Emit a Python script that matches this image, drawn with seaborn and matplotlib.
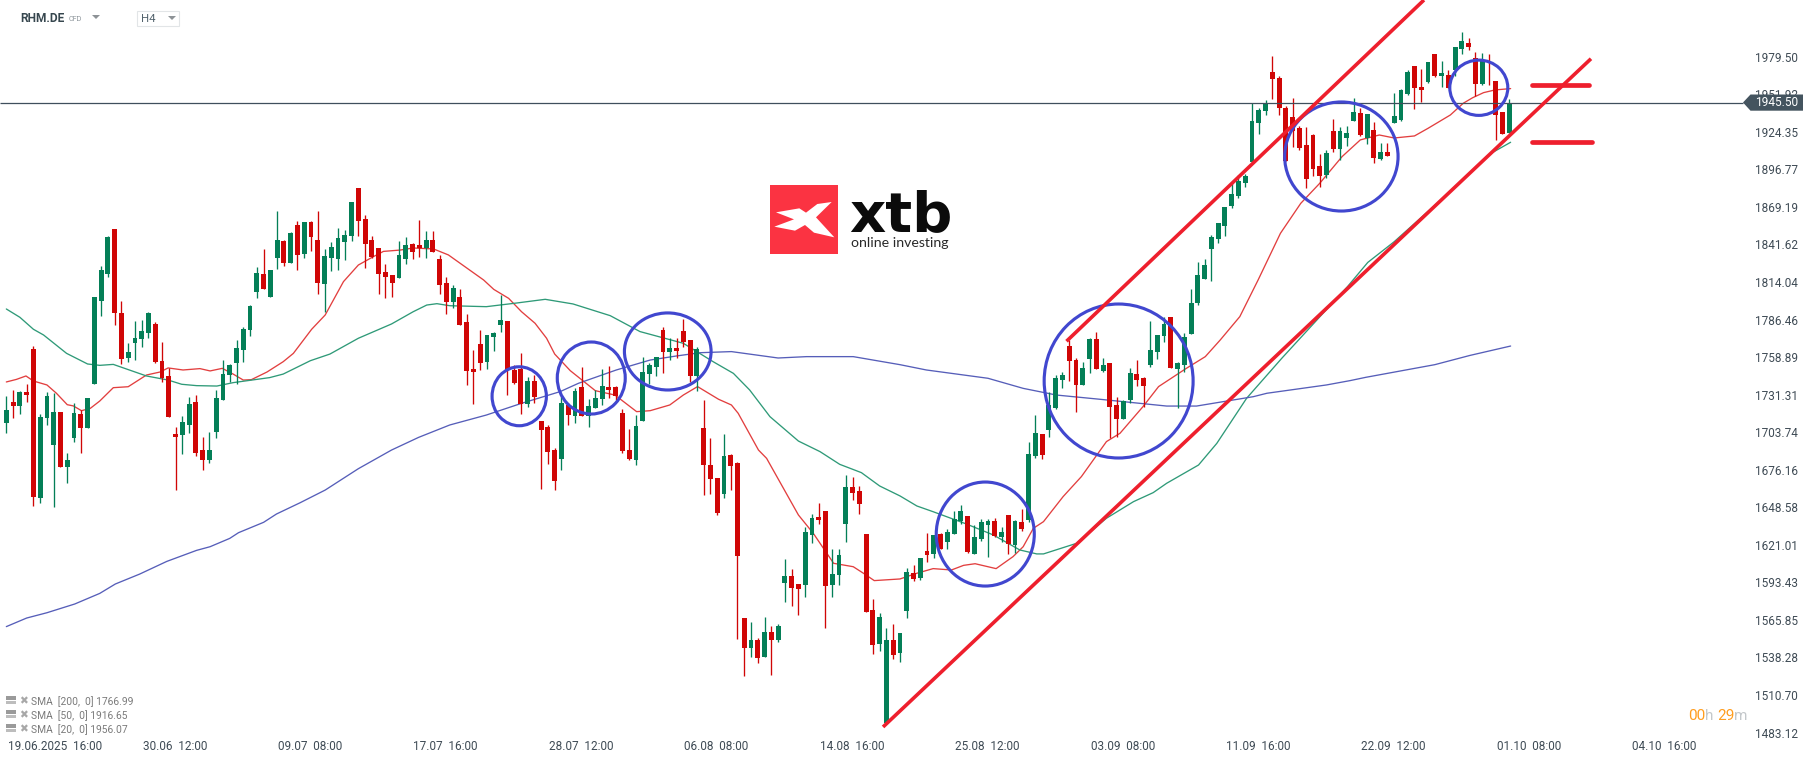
import numpy as np
import pandas as pd
import seaborn as sns
import matplotlib
matplotlib.use("Agg")
import matplotlib.pyplot as plt
from matplotlib.patches import Ellipse, Polygon, Rectangle, FancyBboxPatch

sns.set_style("white")
plt.rcParams['font.family'] = ['Roboto', 'DejaVu Sans']

# candles, H4, in price units
opens = [1710.5, 1725.9, 1723.0, 1733.2, 1764.8, 1655.4, 1714.1, 1694.3, 1718.5, 1678.1,
         1699.4, 1717.1, 1706.8, 1739.1, 1800.1, 1819.9, 1853.0, 1791.3, 1758.2, 1769.2,
         1772.2, 1776.6, 1783.2, 1756.0, 1745.0, 1702.4, 1701.6, 1709.0, 1725.9, 1690.6,
         1683.3, 1703.9, 1727.4, 1745.7, 1754.5, 1764.1, 1778.8, 1806.7, 1819.9, 1803.0,
         1831.6, 1844.1, 1828.0, 1855.9, 1834.6, 1858.1, 1844.9, 1812.6, 1831.6, 1830.9,
         1843.4, 1847.8, 1883.1, 1860.3, 1844.9, 1839.0, 1821.4, 1819.2, 1817.0, 1830.9,
         1841.9, 1841.2, 1839.0, 1844.9, 1830.9, 1813.3, 1799.3, 1803.0, 1784.6, 1750.1,
         1768.5, 1755.3, 1773.6, 1782.4, 1785.4, 1749.4, 1750.1, 1724.4, 1741.3, 1711.9,
         1707.5, 1690.6, 1684.0, 1723.7, 1715.6, 1736.9, 1715.6, 1721.5, 1728.1, 1736.9,
         1736.9, 1717.8, 1690.6, 1683.3, 1711.9, 1746.5, 1751.6, 1778.8, 1762.6, 1765.6,
         1778.0, 1771.4, 1745.0, 1706.8, 1679.6, 1670.1, 1658.3, 1687.0, 1681.1, 1567.2,
         1545.2, 1551.1, 1538.6, 1557.0, 1551.1, 1593.0, 1598.1, 1592.2, 1591.5, 1628.2,
         1641.4, 1645.8, 1591.5, 1598.8, 1636.3, 1663.5, 1660.5, 1628.9, 1573.1, 1548.2,
         1490.1, 1551.1, 1541.5, 1572.4, 1600.3, 1596.6, 1616.5, 1614.3, 1628.9, 1623.1,
         1628.9, 1638.5, 1642.2, 1614.3, 1625.3, 1635.5, 1638.5, 1626.7, 1642.9, 1620.9,
         1637.8, 1639.2, 1686.2, 1702.4, 1705.3, 1721.5, 1742.0, 1767.0, 1756.7, 1738.4,
         1757.5, 1772.2, 1748.7, 1754.5, 1723.7, 1713.4, 1727.4, 1746.5, 1743.5, 1753.1,
         1762.6, 1774.4, 1788.3, 1750.1, 1753.1, 1775.8, 1798.6, 1816.2, 1838.3, 1845.6,
         1855.2, 1869.9, 1877.2, 1886.7, 1902.2, 1930.8, 1939.6, 1968.3, 1963.9, 1941.8,
         1935.2, 1927.1, 1914.7, 1922.0, 1899.2, 1892.6, 1924.9, 1911.7, 1919.8, 1932.3,
         1938.2, 1919.8, 1925.7, 1904.4, 1909.5, 1930.8, 1933.0, 1952.1, 1972.7, 1957.3,
         1960.9, 1981.5, 1965.3, 1966.1, 1969.7, 1985.2, 1989.6, 1978.6, 1959.5, 1976.3,
         1961.7, 1938.9, 1923.5]
highs = [1730.3, 1734.7, 1734.0, 1739.1, 1767.0, 1717.1, 1733.2, 1732.5, 1718.5, 1688.4,
         1725.1, 1720.0, 1728.8, 1803.0, 1825.8, 1847.8, 1853.0, 1800.1, 1769.2, 1785.4,
         1786.1, 1792.0, 1784.6, 1770.0, 1750.9, 1707.5, 1715.6, 1729.6, 1731.0, 1700.2,
         1703.9, 1734.7, 1756.7, 1753.8, 1771.4, 1781.0, 1797.1, 1825.0, 1838.3, 1822.8,
         1866.2, 1844.9, 1850.7, 1858.8, 1858.1, 1858.8, 1866.2, 1838.3, 1843.4, 1853.7,
         1852.2, 1872.8, 1883.1, 1863.2, 1847.8, 1839.0, 1827.2, 1819.2, 1844.1, 1847.1,
         1842.7, 1859.6, 1851.5, 1851.5, 1833.9, 1817.7, 1811.8, 1808.9, 1790.5, 1764.1,
         1778.8, 1775.1, 1777.3, 1804.5, 1785.4, 1753.1, 1761.9, 1744.3, 1745.7, 1711.9,
         1709.0, 1692.1, 1731.0, 1724.9, 1736.2, 1751.6, 1728.1, 1734.7, 1750.1, 1752.3,
         1737.6, 1720.8, 1706.1, 1716.3, 1758.9, 1754.5, 1758.9, 1781.0, 1772.9, 1772.9,
         1786.9, 1771.4, 1766.3, 1727.4, 1699.4, 1670.1, 1702.4, 1687.7, 1681.8, 1567.2,
         1564.3, 1552.5, 1568.0, 1561.4, 1562.8, 1610.6, 1603.2, 1592.2, 1634.1, 1643.6,
         1651.7, 1645.8, 1617.9, 1617.9, 1672.3, 1670.8, 1664.2, 1628.9, 1581.2, 1570.9,
         1559.9, 1562.8, 1556.2, 1603.7, 1606.2, 1611.3, 1629.7, 1628.2, 1629.7, 1632.6,
         1645.8, 1650.2, 1642.2, 1635.5, 1640.0, 1640.0, 1640.7, 1634.1, 1642.9, 1639.2,
         1647.3, 1696.5, 1716.3, 1702.4, 1733.2, 1745.7, 1747.9, 1771.4, 1758.2, 1755.3,
         1772.9, 1777.3, 1758.2, 1754.5, 1729.6, 1727.4, 1750.9, 1756.7, 1744.3, 1785.4,
         1775.1, 1788.3, 1788.3, 1755.3, 1776.6, 1808.9, 1828.7, 1830.9, 1848.5, 1857.4,
         1869.1, 1886.7, 1892.6, 1893.4, 1945.7, 1941.8, 1947.7, 1980.0, 1965.3, 1943.3,
         1949.2, 1928.6, 1927.9, 1922.7, 1908.0, 1911.0, 1933.8, 1927.9, 1928.6, 1949.2,
         1941.8, 1937.4, 1931.5, 1916.1, 1916.1, 1952.8, 1955.8, 1969.7, 1972.7, 1970.5,
         1975.6, 1981.5, 1976.3, 1969.7, 1986.6, 1997.6, 1993.2, 1983.0, 1982.2, 1981.5,
         1961.7, 1938.9, 1948.4]
lows = [1703.1, 1714.1, 1717.1, 1725.9, 1649.5, 1651.7, 1709.0, 1648.8, 1678.1, 1666.4,
        1696.5, 1688.4, 1706.8, 1739.1, 1789.1, 1817.7, 1782.4, 1753.8, 1755.3, 1756.7,
        1766.3, 1772.9, 1754.5, 1740.6, 1714.9, 1661.2, 1687.7, 1703.1, 1686.2, 1675.9,
        1681.1, 1699.4, 1727.4, 1740.6, 1739.1, 1755.3, 1774.4, 1802.3, 1808.9, 1803.0,
        1823.6, 1825.8, 1828.0, 1822.8, 1831.6, 1836.8, 1805.2, 1792.0, 1822.1, 1822.8,
        1830.2, 1844.1, 1847.8, 1824.3, 1831.6, 1805.2, 1802.3, 1803.0, 1817.0, 1827.2,
        1830.9, 1832.4, 1831.6, 1836.1, 1805.2, 1790.5, 1794.9, 1782.4, 1738.4, 1724.4,
        1749.4, 1750.1, 1763.4, 1777.3, 1731.0, 1739.1, 1717.1, 1722.2, 1725.2, 1662.0,
        1680.4, 1661.3, 1676.0, 1709.0, 1710.5, 1715.6, 1707.5, 1721.5, 1723.7, 1728.8,
        1727.4, 1688.4, 1683.3, 1679.6, 1711.9, 1739.1, 1745.0, 1747.2, 1756.7, 1758.2,
        1766.3, 1740.6, 1734.0, 1657.6, 1658.3, 1642.9, 1655.4, 1661.3, 1551.8, 1524.6,
        1538.6, 1534.2, 1538.6, 1525.4, 1549.6, 1579.0, 1576.1, 1569.5, 1582.7, 1622.3,
        1636.3, 1559.9, 1582.7, 1591.5, 1623.1, 1653.9, 1643.6, 1571.6, 1540.8, 1543.0,
        1490.1, 1537.1, 1534.9, 1567.2, 1594.4, 1595.2, 1608.4, 1611.3, 1617.9, 1617.9,
        1628.9, 1636.3, 1615.0, 1614.3, 1623.8, 1612.0, 1626.7, 1623.1, 1614.3, 1615.0,
        1631.1, 1637.8, 1684.8, 1684.0, 1700.2, 1720.8, 1736.2, 1741.3, 1718.5, 1738.4,
        1747.2, 1750.1, 1747.9, 1699.4, 1700.2, 1713.4, 1725.2, 1737.6, 1722.2, 1751.6,
        1757.5, 1770.0, 1750.9, 1721.5, 1747.9, 1775.8, 1797.1, 1816.2, 1814.8, 1842.7,
        1847.8, 1868.4, 1875.7, 1883.8, 1902.2, 1922.7, 1936.7, 1948.4, 1936.7, 1902.9,
        1913.2, 1911.0, 1883.1, 1891.9, 1883.8, 1890.4, 1909.5, 1903.6, 1913.9, 1932.3,
        1921.3, 1915.4, 1901.4, 1903.6, 1906.6, 1930.8, 1932.3, 1951.4, 1941.1, 1946.2,
        1960.2, 1964.6, 1957.3, 1956.5, 1965.3, 1981.5, 1984.4, 1950.6, 1958.7, 1958.7,
        1918.3, 1922.7, 1923.5]
closes = [1720.0, 1723.0, 1733.2, 1731.0, 1656.1, 1714.9, 1730.3, 1718.5, 1678.1, 1683.3,
          1717.8, 1706.8, 1728.8, 1803.0, 1822.8, 1847.1, 1791.3, 1757.5, 1762.6, 1772.9,
          1778.0, 1791.3, 1755.3, 1743.5, 1714.9, 1700.2, 1711.2, 1724.4, 1688.4, 1683.3,
          1690.6, 1728.8, 1746.4, 1753.1, 1765.5, 1779.5, 1796.4, 1820.6, 1808.9, 1822.8,
          1844.9, 1828.0, 1850.0, 1833.9, 1858.1, 1847.1, 1813.3, 1833.1, 1839.7, 1846.3,
          1848.5, 1872.8, 1858.8, 1841.9, 1832.4, 1819.9, 1817.7, 1813.3, 1833.9, 1841.2,
          1836.1, 1839.0, 1844.9, 1836.1, 1811.8, 1799.3, 1809.6, 1782.4, 1748.7, 1747.9,
          1754.5, 1775.1, 1776.6, 1786.1, 1749.4, 1739.9, 1724.4, 1741.3, 1729.6, 1705.3,
          1689.2, 1667.9, 1725.2, 1716.3, 1734.0, 1715.6, 1723.0, 1728.8, 1737.6, 1734.7,
          1730.3, 1689.9, 1684.0, 1708.3, 1747.9, 1753.1, 1758.9, 1762.6, 1765.6, 1763.4,
          1770.0, 1745.0, 1764.8, 1679.6, 1669.3, 1644.4, 1686.2, 1678.9, 1612.8, 1545.2,
          1551.1, 1537.9, 1557.0, 1551.1, 1561.4, 1598.1, 1589.3, 1588.5, 1630.4, 1640.7,
          1639.2, 1590.7, 1599.6, 1613.5, 1663.5, 1659.0, 1651.0, 1571.6, 1547.4, 1568.0,
          1551.1, 1540.1, 1556.2, 1601.0, 1595.9, 1611.3, 1613.5, 1628.2, 1617.9, 1630.4,
          1640.0, 1645.8, 1615.7, 1626.7, 1637.8, 1638.5, 1627.5, 1630.4, 1621.6, 1638.5,
          1632.6, 1687.7, 1703.1, 1687.0, 1723.7, 1743.5, 1745.7, 1756.0, 1738.4, 1750.9,
          1772.2, 1750.1, 1753.1, 1722.2, 1713.4, 1726.6, 1747.2, 1742.0, 1737.6, 1764.1,
          1775.1, 1783.2, 1750.9, 1754.5, 1773.6, 1798.6, 1819.2, 1826.5, 1847.1, 1857.4,
          1869.1, 1878.7, 1888.2, 1891.9, 1932.3, 1940.4, 1945.7, 1963.1, 1941.8, 1902.9,
          1924.9, 1912.4, 1889.7, 1897.0, 1891.9, 1908.8, 1911.7, 1924.9, 1923.5, 1938.9,
          1922.0, 1937.4, 1905.1, 1909.5, 1906.6, 1936.0, 1955.0, 1968.3, 1956.5, 1955.0,
          1975.6, 1965.3, 1967.5, 1956.5, 1986.6, 1991.0, 1986.6, 1959.5, 1976.3, 1975.6,
          1936.7, 1922.7, 1945.5]

# moving averages, sampled along the curves
sma20_x = [0, 1.5, 2.9, 4, 6, 7.4, 9, 9.9, 11.1, 12.4, 13.8, 15.8, 18, 20.7, 22.7, 23.9, 26.1, 28.6, 30.1,
           31.9, 33.5, 35, 36.2, 38.5, 40.9, 42.4, 45.1, 47.1, 49.8, 52, 54.2, 55.7, 58.2, 60.1, 63.1, 65.3,
           70.5, 72, 74.2, 76.1, 78.1, 79.8, 81, 83.3, 87, 89.9, 93.1, 95.1, 98, 100, 102.1, 105.2, 107.1,
           108.1, 111.1, 112.3, 117, 119.2, 122.2, 125.1, 126.6, 128.2, 132, 134.5, 136.9, 139.6, 141.4,
           143.1, 146.2, 148.7, 150.2, 151.7, 153.2, 156.1, 158.8, 162.5, 164.5, 167.9, 170.2, 174.3, 177.1,
           179.3, 182.2, 184.9, 188.2, 191.2, 194, 197.3, 200, 202.8, 205, 208, 210, 213.3, 215.2, 216.6,
           218.2, 219.9, 222.2]
sma20_y = [1740.6, 1742.5, 1745.0, 1741.3, 1738.4, 1732.3, 1723.9, 1723.0, 1719.5, 1721.2, 1726.6, 1736.4,
           1737.1, 1745.7, 1747.9, 1750.9, 1749.4, 1750.4, 1748.7, 1750.6, 1746.4, 1742.0, 1742.3, 1747.9,
           1755.5, 1761.6, 1779.3, 1789.8, 1814.3, 1826.5, 1832.6, 1836.5, 1837.5, 1839.0, 1838.3, 1833.9,
           1815.5, 1808.6, 1802.0, 1792.2, 1783.7, 1772.7, 1761.1, 1748.9, 1734.2, 1731.0, 1718.8, 1719.5,
           1723.7, 1731.0, 1737.2, 1727.9, 1723.7, 1717.6, 1690.6, 1684.5, 1642.9, 1629.4, 1607.4, 1604.9,
           1600.1, 1594.7, 1595.9, 1600.1, 1603.5, 1602.5, 1605.9, 1607.1, 1603.5, 1612.3, 1619.6, 1633.1,
           1638.0, 1656.4, 1671.1, 1696.8, 1702.9, 1722.5, 1737.2, 1750.6, 1759.2, 1771.4, 1788.6, 1815.5,
           1849.8, 1871.8, 1886.5, 1906.1, 1918.4, 1922.0, 1919.8, 1921.3, 1926.9, 1936.7, 1945.3, 1949.4,
           1953.1, 1955.1, 1956.07]
sma50_x = [0, 2, 4, 5.5, 8.9, 12, 13.8, 15.8, 20.7, 23.9, 25.9, 28.1, 31.1, 33.5, 38.9, 40.9, 44.9, 47.8, 52,
           56.9, 60.1, 62.1, 63.6, 65.5, 70.9, 75.4, 79.6, 83.7, 89.2, 93.6, 100, 104.4, 107.4, 109.8, 112.8,
           117, 120.2, 123.1, 126.3, 129, 132, 134.5, 136.9, 141.8, 145.8, 149.7, 152.2, 153.2, 158.1, 162.5,
           166.5, 169.4, 171.4, 176.1, 178.8, 183.2, 188.4, 198.1, 201.1, 205, 213.8, 219.3, 222.2]
sma50_y = [1794.2, 1788.1, 1779.3, 1775.1, 1761.6, 1753.8, 1752.8, 1753.5, 1745.0, 1742.0, 1738.9, 1737.9,
           1737.6, 1740.1, 1743.8, 1746.4, 1756.2, 1761.1, 1772.7, 1783.2, 1792.2, 1797.1, 1798.1, 1796.6,
           1795.9, 1798.6, 1801.3, 1797.9, 1789.3, 1777.6, 1769.0, 1755.5, 1746.9, 1734.7, 1715.1, 1697.2,
           1689.4, 1680.1, 1674.0, 1664.2, 1656.9, 1649.5, 1645.3, 1636.3, 1628.2, 1617.2, 1614.3, 1614.3,
           1622.1, 1640.5, 1652.7, 1659.3, 1666.2, 1679.6, 1695.5, 1728.6, 1758.0, 1810.6, 1828.4, 1843.6,
           1882.8, 1908.5, 1916.65]
sma200_x = [0, 3, 6, 10.1, 13.8, 16.1, 19.7, 23.7, 28.1, 30.1, 33, 34.3, 38, 39.9, 43.4, 47.1, 52, 56.9, 60.9,
            65.5, 70.9, 76.1, 81.8, 84.5, 90.1, 95.1, 99, 102.5, 107.1, 114, 118.2, 125.1, 132, 135.9, 145,
            150.2, 155.1, 161.5, 171.4, 175.8, 184.2, 186.2, 195, 198.5, 200.8, 211, 216.2, 222.2]
sma200_y = [1560.9, 1567.2, 1571.1, 1577.5, 1585.3, 1592.2, 1599.5, 1608.8, 1616.9, 1619.6, 1625.7, 1629.9,
            1637.5, 1643.6, 1651.9, 1661.2, 1676.9, 1690.6, 1699.9, 1709.0, 1716.3, 1724.9, 1733.5, 1739.6,
            1749.4, 1756.7, 1759.7, 1762.1, 1762.9, 1758.2, 1759.2, 1759.2, 1753.3, 1749.4, 1743.3, 1735.9,
            1731.0, 1727.9, 1722.9, 1722.9, 1729.8, 1732.3, 1738.4, 1741.6, 1744.0, 1753.3, 1760.1, 1766.99]

last_price = 1945.50
price_ticks = [1979.50, 1951.92, 1924.35, 1896.77, 1869.19, 1841.62, 1814.04, 1786.46, 1758.89, 1731.31,
               1703.74, 1676.16, 1648.58, 1621.01, 1593.43, 1565.85, 1538.28, 1510.70, 1483.12]
time_ticks = [7.2, 24.9, 44.9, 64.9, 84.9, 104.9, 124.9, 144.9, 164.9, 184.9, 204.9, 224.9, 244.9]
time_labels = ['19.06.2025  16:00', '30.06  12:00', '09.07  08:00', '17.07  16:00', '28.07  12:00',
               '06.08  08:00', '14.08  16:00', '25.08  12:00', '03.09  08:00', '11.09  16:00',
               '22.09  12:00', '01.10  08:00', '04.10  16:00']
sma_legend = ['SMA  [200,  0] 1766.99', 'SMA  [50,  0] 1916.65', 'SMA  [20,  0] 1956.07']

# hand drawn analysis on top of the chart: (idx, price, width, height)
circles = [(75.76, 1730.1, 8.02, 43.3), (86.4, 1743.5, 10.04, 52.9), (97.7, 1763.0, 12.8, 56.6),
           (144.6, 1628.9, 14.48, 76.4), (164.3, 1741.3, 22.0, 113.1), (197.2, 1906.2, 16.75, 80.1),
           (217.5, 1956.7, 8.57, 40.6)]
channel_low = ([129.5, 234.07], [1487.2, 1978.0])
channel_high = ([156.6, 209.4], [1770.5, 2021.15])
level_high = ([225.4, 233.8], [1958.5, 1958.5])
level_low = ([225.3, 234.2], [1916.6, 1916.6])

GREEN = '#047f57'
RED = '#d00606'
TEXT = '#3f4b55'
W, H = 1815, 761


def fx(x):
    return x / W


def fy(y):
    return 1 - y / H


def draw_candles(ax):
    idx = np.arange(len(opens))
    o, h, l, c = map(np.array, (opens, highs, lows, closes))
    up = c >= o
    colors = np.where(up, GREEN, RED)
    ax.vlines(idx, l, h, colors=colors, linewidth=0.95, zorder=3)
    ax.bar(idx, np.maximum(np.abs(c - o), 0.7), bottom=np.minimum(o, c), width=0.72,
           color=colors, linewidth=0, zorder=3)


def draw_annotations(ax):
    for x, y, w, h in circles:
        ax.add_patch(Ellipse((x, y), w, h, fill=False, edgecolor='#4147cf', linewidth=2.25, zorder=5))
    for xs, ys in (channel_low, channel_high):
        ax.plot(xs, ys, color='#ee1f2d', linewidth=2.6, solid_capstyle='butt', zorder=6)
    for xs, ys in (level_high, level_low):
        ax.plot(xs, ys, color='#ee1f2d', linewidth=3.4, solid_capstyle='round', zorder=6)


def draw_logo(fig):
    fig.add_artist(FancyBboxPatch((fx(770), fy(253.5)), 68 / W, 68.5 / H, boxstyle='square,pad=0',
                                  transform=fig.transFigure, facecolor='#fb3342', edgecolor='none'))
    mark = [(108, 157), (178, 145), (198, 158), (232, 132), (275, 126), (228, 172),
            (283, 232), (222, 218), (195, 195), (165, 212), (103, 200), (162, 178)]
    pts = [(fx(740 + a / 3), fy(160 + b / 3)) for a, b in mark]
    fig.add_artist(Polygon(pts, closed=True, transform=fig.transFigure, facecolor='white', edgecolor='none'))
    fig.text(fx(849), fy(231), 'xtb', family='DejaVu Sans', weight='bold', fontsize=40.5, color='#0b0b0b',
             va='baseline', ha='left')
    fig.text(fx(851), fy(247), 'online investing', family='Lato', fontsize=10.2, color='#2a2a2a',
             va='baseline', ha='left')


def draw_header(fig):
    fig.text(fx(20), fy(19), 'RHM.DE', fontsize=8.6, weight='bold', color='#37474f', va='center')
    fig.text(fx(69), fy(19.5), 'CFD', fontsize=5.2, color='#8d959b', va='center')
    fig.add_artist(Polygon([(fx(92), fy(15)), (fx(100), fy(15)), (fx(96), fy(19))], closed=True,
                           transform=fig.transFigure, facecolor='#8d9296', edgecolor='none'))
    fig.add_artist(FancyBboxPatch((fx(137), fy(25.5)), 42 / W, 15 / H, boxstyle='square,pad=0',
                                  transform=fig.transFigure, facecolor='white', edgecolor='#e2e5e7', linewidth=0.8))
    fig.text(fx(141.5), fy(19.5), 'H4', fontsize=8.2, color='#52626c', va='center')
    fig.add_artist(Polygon([(fx(168), fy(16)), (fx(176), fy(16)), (fx(172), fy(20))], closed=True,
                           transform=fig.transFigure, facecolor='#8d9296', edgecolor='none'))


def draw_legend(fig):
    for label, y in zip(sma_legend, (701.3, 715.3, 729.3)):
        fig.add_artist(Rectangle((fx(6), fy(y - 1.2)), 10 / W, 4.5 / H, transform=fig.transFigure,
                                 facecolor='#9a9a9a', edgecolor='none'))
        fig.add_artist(Rectangle((fx(6), fy(y + 2.2)), 10 / W, 2.4 / H, transform=fig.transFigure,
                                 facecolor='#bdbdbd', edgecolor='none'))
        fig.text(fx(23.5), fy(y), '\u2716', family='DejaVu Sans', fontsize=7.6, color='#a8a8a8',
                 ha='center', va='center')
        fig.text(fx(31), fy(y), label, fontsize=7.4, color='#7a7a7a', va='center')


def draw_price_flag(fig):
    flag = [(fx(1743), fy(102.5)), (fx(1750.5), fy(94.5)), (fx(1803), fy(94.5)),
            (fx(1803), fy(110.7)), (fx(1750.5), fy(110.7))]
    fig.add_artist(Polygon(flag, closed=True, transform=fig.transFigure, facecolor='#44545f', edgecolor='none'))
    fig.text(fx(1777), fy(103), f'{last_price:.2f}', fontsize=8.6, color='white', ha='center', va='center', zorder=3)


def draw_countdown(fig):
    for x, part, color in ((1688, '00', '#ff9d1e'), (1705, 'h', '#c4c8cb'), (1717, '29', '#ff9d1e'),
                           (1734, 'm', '#c4c8cb')):
        fig.text(fx(x), fy(716), part, fontsize=11, color=color, va='center')


def main():
    fig = plt.figure(figsize=(W / 100, H / 100), dpi=100)
    ax = fig.add_axes([0, 0, 1, 1])
    ax.set_xlim(-0.935, 267.16)
    ax.set_ylim(2021.15 - H * 0.7345, 2021.15)

    sma = pd.concat([
        pd.DataFrame({'idx': sma20_x, 'price': sma20_y, 'name': 'SMA20'}),
        pd.DataFrame({'idx': sma50_x, 'price': sma50_y, 'name': 'SMA50'}),
        pd.DataFrame({'idx': sma200_x, 'price': sma200_y, 'name': 'SMA200'}),
    ])
    sns.lineplot(data=sma, x='idx', y='price', hue='name', sort=False, estimator=None, ax=ax, legend=False,
                 palette={'SMA20': '#e23f3f', 'SMA50': '#2f9a78', 'SMA200': '#565eb9'}, linewidth=0.95, zorder=2)

    draw_candles(ax)
    ax.hlines(last_price, ax.get_xlim()[0], (1743 - 6.33) / 6.77, color='#3f4f5c', linewidth=0.9, zorder=4)
    draw_annotations(ax)

    ax.set_xlabel('')
    ax.set_ylabel('')
    sns.despine(ax=ax, left=True, right=True, top=True, bottom=True)
    ax.yaxis.tick_right()
    ax.set_yticks(price_ticks)
    ax.set_yticklabels([f'{p:.2f}' for p in price_ticks])
    ax.set_xticks(time_ticks)
    ax.set_xticklabels(time_labels)
    ax.tick_params(axis='y', length=0, pad=-43.0, labelsize=8.5, labelcolor=TEXT)
    ax.tick_params(axis='x', length=0, pad=-15.3, labelsize=8.5, labelcolor=TEXT)

    draw_logo(fig)
    draw_header(fig)
    draw_legend(fig)
    draw_price_flag(fig)
    draw_countdown(fig)
    fig.savefig('out.png', dpi=100, facecolor='white')


if __name__ == "__main__":
    main()
